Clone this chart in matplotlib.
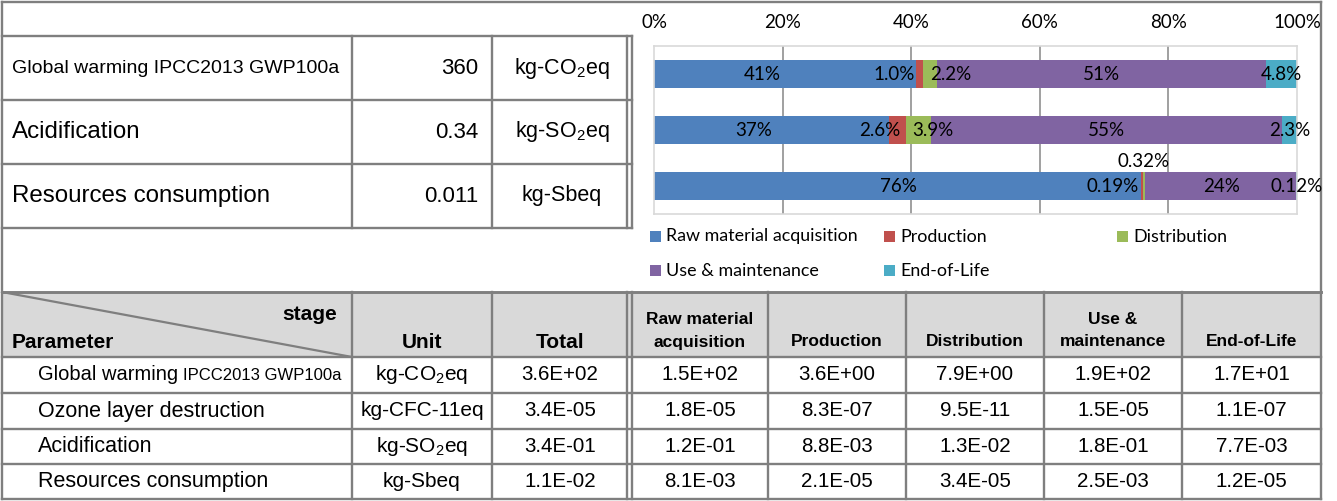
import matplotlib
matplotlib.use("Agg")
import matplotlib.pyplot as plt
from matplotlib.patches import Rectangle

W, H, DPI = 1337, 501, 100

# ---------------- data ----------------
stages = ["Raw material acquisition", "Production", "Distribution",
          "Use & maintenance", "End-of-Life"]
stage_headers = [["Raw material", "acquisition"], ["Production"], ["Distribution"],
                 ["Use &", "maintenance"], ["End-of-Life"]]
colors = ["#4F81BD", "#C0504D", "#9BBB59", "#8064A2", "#4BACC6"]

chart_categories = ["Global warming IPCC2013 GWP100a", "Acidification",
                    "Resources consumption"]
summary_totals = ["360", "0.34", "0.011"]
summary_units = ["kg-CO$_2$eq", "kg-SO$_2$eq", "kg-Sbeq"]

share_raw = [40.8, 36.6, 75.8]
share_production = [1.0, 2.6, 0.19]
share_distribution = [2.2, 3.9, 0.32]
share_use = [51.2, 54.6, 23.57]
share_eol = [4.8, 2.3, 0.12]
pct_ticks = [0, 20, 40, 60, 80, 100]

table_params = ["Global warming", "Ozone layer destruction", "Acidification",
                "Resources consumption"]
table_param_suffix = ["IPCC2013 GWP100a", "", "", ""]
table_units = ["kg-CO$_2$eq", "kg-CFC-11eq", "kg-SO$_2$eq", "kg-Sbeq"]
table_totals = ["3.6E+02", "3.4E-05", "3.4E-01", "1.1E-02"]
table_raw = ["1.5E+02", "1.8E-05", "1.2E-01", "8.1E-03"]
table_production = ["3.6E+00", "8.3E-07", "8.8E-03", "2.1E-05"]
table_distribution = ["7.9E+00", "9.5E-11", "1.3E-02", "3.4E-05"]
table_use = ["1.9E+02", "1.5E-05", "1.8E-01", "2.5E-03"]
table_eol = ["1.7E+01", "1.1E-07", "7.7E-03", "1.2E-05"]

# label placement (percent along the bar, vertical offset in category units)
label_x = [[16.9, 37.4, 46.2, 69.6, 97.5],
           [15.5, 35.1, 43.3, 70.4, 98.9],
           [38.0, 71.3, 76.2, 88.2, 100.0]]
label_dy = [[0, 0, 0, 0, 0], [0, 0, 0, 0, 0], [0, 0, -0.43, 0, 0]]

# ---------------- style ----------------
plt.rcParams['font.family'] = ['Liberation Sans', 'DejaVu Sans']
plt.rcParams['mathtext.fontset'] = 'custom'
plt.rcParams['mathtext.rm'] = 'Liberation Sans'
plt.rcParams['mathtext.default'] = 'regular'
CHART_FONT = ['Lato', 'DejaVu Sans']
LC = '#7f7f7f'
LW = 1.7

fig = plt.figure(figsize=(W / DPI, H / DPI), dpi=DPI)
bg = fig.add_axes([0, 0, 1, 1])
bg.set_xlim(0, W)
bg.set_ylim(H, 0)
bg.axis('off')


def hline(y, x0, x1, lw=LW):
    bg.plot([x0, x1], [y, y], color=LC, lw=lw, solid_capstyle='projecting', zorder=3)


def vline(x, y0, y1, lw=LW):
    bg.plot([x, x], [y0, y1], color=LC, lw=lw, solid_capstyle='projecting', zorder=3)


L, R, T, B = 2, 1321, 2, 499

# outer border
hline(T, L, R)
hline(B, L, R)
vline(L, T, B)
vline(R, T, B)

# ---------------- top-left summary table ----------------
top_rows = [36, 100, 164, 228]
for yy in top_rows:
    hline(yy, L, 632)
for xx in [352, 492, 627, 632]:
    vline(xx, 36, 228)

for i, cat in enumerate(chart_categories):
    yc = (top_rows[i] + top_rows[i + 1]) / 2
    fs = 14 if i == 0 else 17.4
    bg.text(12, yc, cat, fontsize=fs, ha='left', va='center', zorder=4)
    bg.text(478, yc, summary_totals[i], fontsize=16, ha='right', va='center', zorder=4)
    bg.text(562, yc, summary_units[i], fontsize=15.5, ha='center', va='center', zorder=4)

# ---------------- lower table ----------------
rows = [292, 357, 393, 429, 464, 499]
cols = [L, 352, 492, 627, 632, 768, 906, 1044, 1182, R]
bg.add_patch(Rectangle((L, 292), R - L, 65, facecolor='#d9d9d9', edgecolor='none', zorder=1))
hline(292, L, R, lw=2.1)
for yy in rows[1:-1]:
    hline(yy, L, R)
for xx in cols[1:-1]:
    vline(xx, 292, B)
bg.plot([L, 352], [292, 357], color=LC, lw=1.6, zorder=3)

bg.text(337, 315, "stage", fontsize=15, fontweight='bold', ha='right', va='center', zorder=4)
bg.text(12, 342, "Parameter", fontsize=15, fontweight='bold', ha='left', va='center', zorder=4)
bg.text(422, 342, "Unit", fontsize=15, fontweight='bold', ha='center', va='center', zorder=4)
bg.text(560, 342, "Total", fontsize=15, fontweight='bold', ha='center', va='center', zorder=4)
stage_centers = [700, 837, 975, 1113, 1251.5]
for xc, lines in zip(stage_centers, stage_headers):
    ys = [342] if len(lines) == 1 else [320, 342]
    for yy, txt in zip(ys, lines):
        bg.text(xc, yy, txt, fontsize=12.5, fontweight='bold', ha='center', va='center', zorder=4)

value_cols = [table_totals, table_raw, table_production, table_distribution, table_use, table_eol]
value_centers = [560] + stage_centers
for i in range(len(table_params)):
    yc = (rows[i + 1] + rows[i + 2]) / 2
    t = bg.text(38, yc, table_params[i], fontsize=14.5 if table_param_suffix[i] else 15.5,
                ha='left', va='center', zorder=4)
    if table_param_suffix[i]:
        fig.canvas.draw()
        bb = t.get_window_extent()
        bg.text(bb.x1 + 5, yc, table_param_suffix[i], fontsize=12, ha='left', va='center', zorder=4)
    bg.text(422, yc, table_units[i], fontsize=15, ha='center', va='center', zorder=4)
    for xc, colvals in zip(value_centers, value_cols):
        bg.text(xc, yc, colvals[i], fontsize=14.8, ha='center', va='center', zorder=4)

# ---------------- stacked bar chart ----------------
ax = fig.add_axes([654 / W, 1 - 214 / H, (1297 - 654) / W, (214 - 46) / H])
series = [share_raw, share_production, share_distribution, share_use, share_eol]
ypos = list(range(len(chart_categories)))
left = [0.0] * len(ypos)
for vals, col, name in zip(series, colors, stages):
    ax.barh(ypos, vals, left=left, height=0.51, color=col, label=name, zorder=2)
    left = [a + b for a, b in zip(left, vals)]

ax.set_xlim(0, 100)
ax.set_ylim(2.5, -0.5)
ax.set_yticks([])
ax.set_xticks(pct_ticks)
ax.set_xticklabels([f"{t}%" for t in pct_ticks], fontsize=13.5, family=CHART_FONT)
ax.xaxis.tick_top()
ax.tick_params(axis='x', length=0, pad=11)
ax.grid(axis='x', color='#868686', lw=1.1, zorder=0)
ax.set_axisbelow(True)
gl = ax.xaxis.get_gridlines()
gl[0].set_visible(False)
gl[-1].set_visible(False)
for s in ax.spines.values():
    s.set_color('#d9d9d9')
    s.set_linewidth(1.2)


def fmt(v):
    if v >= 10:
        return f"{v:.0f}%"
    if v >= 1:
        return f"{v:.1f}%"
    return f"{v:.2f}%"


for i in ypos:
    for j, vals in enumerate(series):
        ax.text(label_x[i][j], i + label_dy[i][j], fmt(vals[i]), ha='center', va='center',
                fontsize=13.5, family=CHART_FONT, color='black', zorder=5, clip_on=False)

# legend (manual, to keep Excel's column layout)
leg_x = [650, 884, 1117]
leg_y = [236.5, 270.5]
for k, (name, col) in enumerate(zip(stages, colors)):
    r, c = divmod(k, 3)
    bg.add_patch(Rectangle((leg_x[c], leg_y[r] - 5.5), 11, 11, facecolor=col, edgecolor='none', zorder=4))
    bg.text(leg_x[c] + 16, leg_y[r], name, fontsize=12.9, family=CHART_FONT, ha='left', va='center', zorder=4)

fig.savefig("out.png", dpi=DPI)
